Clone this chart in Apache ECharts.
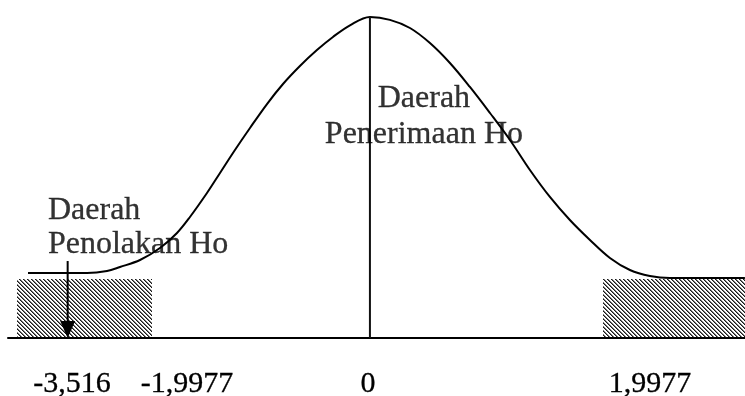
<!DOCTYPE html>
<html>
<head>
<meta charset="utf-8">
<script src="https://cdn.jsdelivr.net/npm/echarts@6/dist/echarts.min.js"></script>
<style>
  html, body { margin: 0; padding: 0; background: #fff; }
  #chart { width: 745px; height: 396px; }
</style>
</head>
<body>
<div id="chart"></div>
<script>
// bell curve (x in z-ish units, y as density)
const curveX = [-3.778, -3.344, -3.122, -2.9, -2.756, -2.533, -2.311, -2.122, -1.978, -1.789,
  -1.644, -1.478, -1.311, -1.122, -0.944, -0.756, -0.567, -0.389, -0.2, 0.022,
  0.244, 0.467, 0.689, 0.911, 1.133, 1.356, 1.578, 1.8, 2.022, 2.244,
  2.467, 2.689, 2.911, 3.133, 3.356, 3.578, 3.8, 4.189];
const curveY = [0.0892, 0.0892, 0.0892, 0.0919, 0.0974, 0.107, 0.1235, 0.1441, 0.166, 0.1989,
  0.2264, 0.2579, 0.2881, 0.321, 0.3485, 0.3732, 0.3951, 0.413, 0.429, 0.4404,
  0.4365, 0.4253, 0.4047, 0.3773, 0.3444, 0.3087, 0.2717, 0.2305, 0.1935, 0.1619,
  0.1345, 0.1098, 0.0933, 0.0851, 0.0823, 0.0823, 0.0823, 0.0823];

// tick labels on the base line
const tickPos = [-3.289, -2.011, 0, 3.133];
const tickLabels = ['-3,516', '-1,9977', '0', '1,9977'];

// hatched rejection regions: [xStart, xEnd, top]
const rejectRegions = [[-3.9, -2.4, 0.081], [2.611, 4.19, 0.081]];

// centre line and arrow
const centreLine = [[0.022, 0], [0.022, 0.4404]];
const arrow = [[-3.337, 0.1056, 0]];

// annotations: [x, y, text]
const notes = [
  [0.622, 0.304, 'Daerah\nPenerimaan Ho'],
  [-3.556, 0.152, 'Daerah\nPenolakan Ho']
];

// crisp "\\\\" hatch, 4px period
function makeHatch() {
  const c = document.createElement('canvas');
  c.width = 8;
  c.height = 8;
  const ctx = c.getContext('2d');
  ctx.fillStyle = '#fff';
  ctx.fillRect(0, 0, 8, 8);
  for (let y = 0; y < 8; y++) {
    for (let x = 0; x < 8; x++) {
      const d = (x - y + 16) % 4;
      if (d === 0) {
        ctx.fillStyle = '#1a1a1a';
        ctx.fillRect(x, y, 1, 1);
      } else if (d === 1) {
        ctx.fillStyle = '#777';
        ctx.fillRect(x, y, 1, 1);
      }
    }
  }
  return c;
}
const hatch = makeHatch();
const serif = 'Liberation Serif';

const myChart = echarts.init(document.getElementById('chart'));
const option = {
  animation: false,
  grid: { left: 8, right: 0, top: 10, bottom: 58, outerBoundsMode: 'none' },
  xAxis: {
    type: 'value',
    min: -4,
    max: 4.19,
    splitLine: { show: false },
    axisTick: { show: false },
    axisLine: { onZero: true, lineStyle: { color: '#000', width: 2 } },
    axisLabel: {
      customValues: tickPos,
      formatter: (v) => {
        const i = tickPos.findIndex((t) => Math.abs(t - v) < 1e-6);
        return i >= 0 ? tickLabels[i] : '';
      },
      margin: 31,
      color: '#000',
      fontFamily: serif,
      fontSize: 30,
      textBorderColor: '#000',
      textBorderWidth: 0.3
    }
  },
  yAxis: { type: 'value', min: 0, max: 0.45, show: false },
  series: [
    {
      type: 'custom',
      z: 1,
      data: rejectRegions,
      encode: { x: [0, 1], y: 2 },
      renderItem: (params, api) => {
        const p0 = api.coord([api.value(0), api.value(2)]);
        const p1 = api.coord([api.value(1), 0]);
        return {
          type: 'rect',
          shape: { x: Math.round(p0[0]), y: Math.round(p0[1]), width: Math.round(p1[0] - p0[0]), height: Math.round(p1[1] - p0[1] - 1) },
          style: { fill: { image: hatch, repeat: 'repeat' } }
        };
      }
    },
    {
      type: 'line',
      z: 3,
      data: curveX.map((x, i) => [x, curveY[i]]),
      smooth: 0.35,
      showSymbol: false,
      lineStyle: { color: '#000', width: 2 }
    },
    {
      type: 'line',
      z: 3,
      data: centreLine,
      showSymbol: false,
      lineStyle: { color: '#111', width: 2 }
    },
    {
      type: 'custom',
      z: 4,
      data: arrow,
      renderItem: (params, api) => {
        const top = api.coord([api.value(0), api.value(1)]);
        const tip = api.coord([api.value(0), api.value(2)]);
        return {
          type: 'group',
          children: [
            {
              type: 'line',
              shape: { x1: top[0], y1: top[1], x2: tip[0], y2: tip[1] - 10 },
              style: { stroke: '#000', lineWidth: 2 }
            },
            {
              type: 'polygon',
              shape: { points: [[tip[0] - 7.5, tip[1] - 17], [tip[0] + 7.5, tip[1] - 17], [tip[0], tip[1]]] },
              style: { fill: '#000' }
            }
          ]
        };
      }
    },
    {
      type: 'scatter',
      z: 5,
      symbolSize: 0,
      data: notes.map((n, i) => ({
        value: [n[0], n[1]],
        label: i === 0
          ? { show: true, position: 'inside', align: 'center', verticalAlign: 'middle', lineHeight: 36 }
          : { show: true, position: 'right', distance: 0, align: 'left', verticalAlign: 'middle', lineHeight: 34 }
      })),
      label: {
        formatter: (p) => notes[p.dataIndex][2],
        color: '#000',
        fontFamily: serif,
        fontSize: 32,
        textBorderColor: '#000',
        textBorderWidth: 0.3
      }
    }
  ]
};
myChart.setOption(option);
</script>
</body>
</html>
